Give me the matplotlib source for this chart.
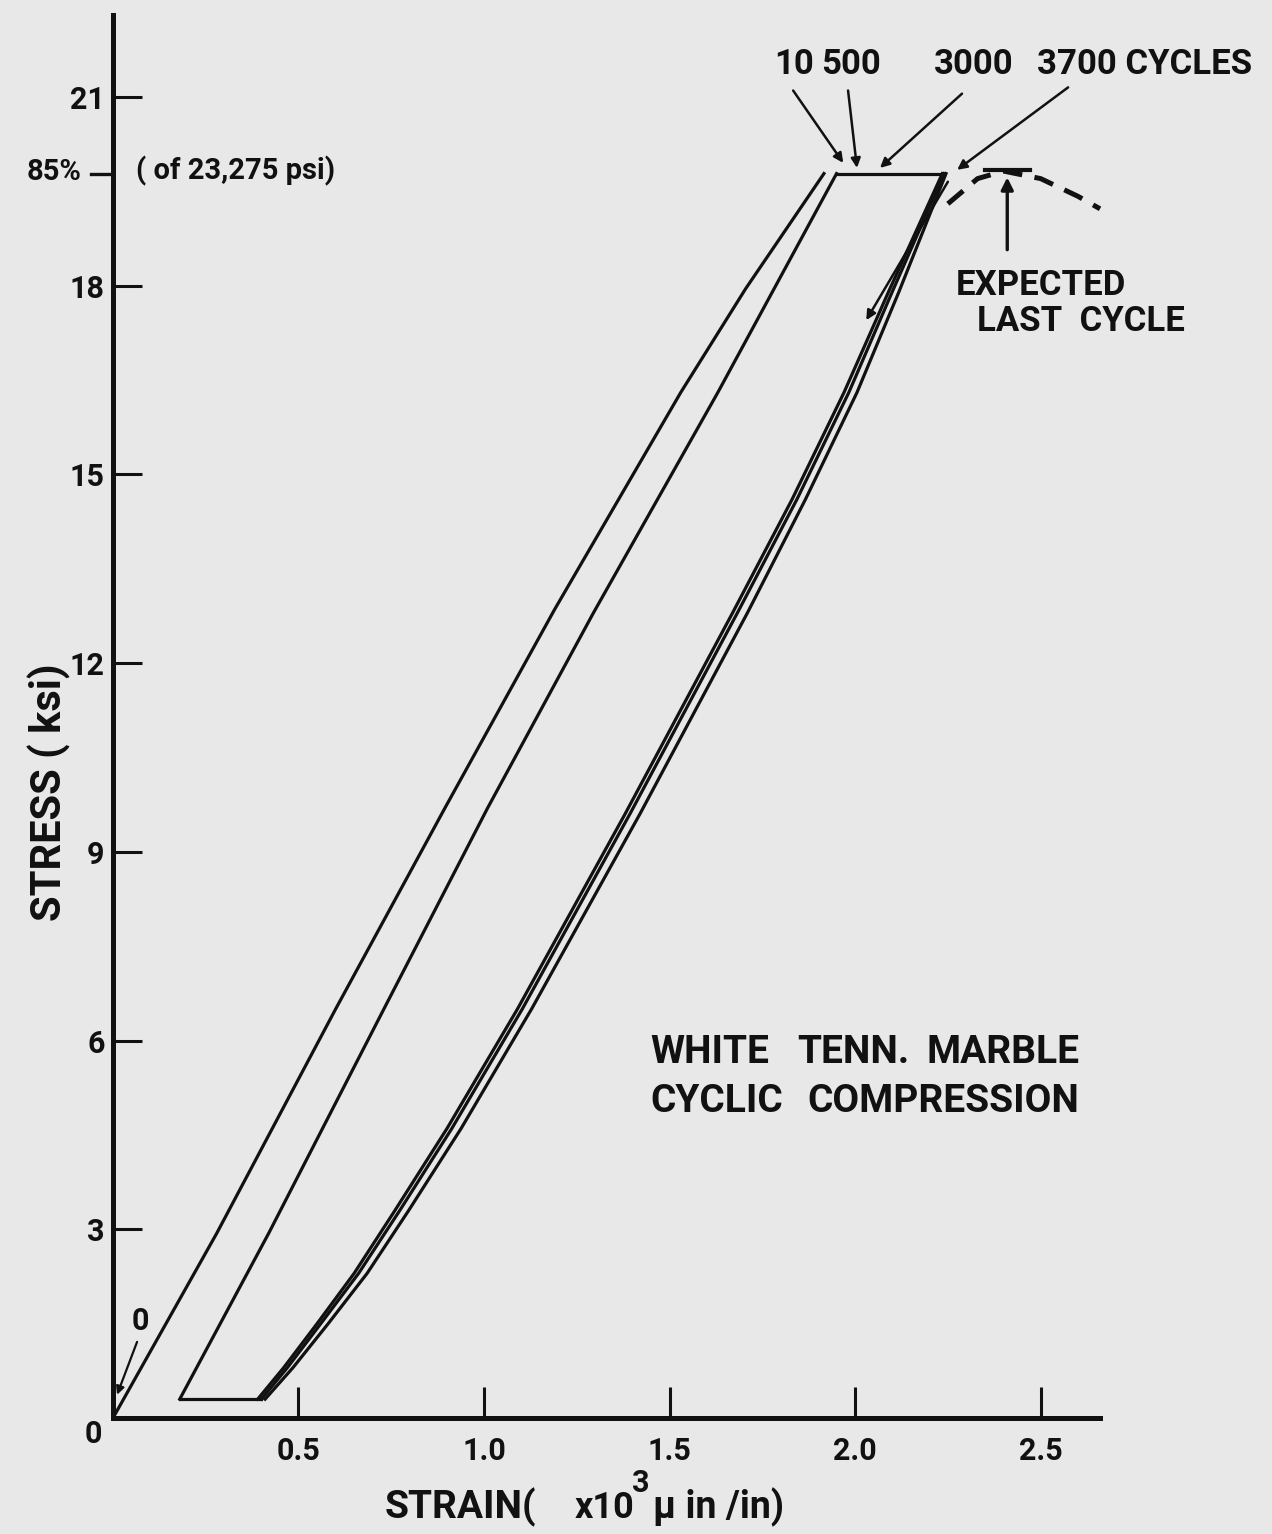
import matplotlib
matplotlib.use("Agg")
import matplotlib.pyplot as plt

plt.rcParams['font.family'] = ['Roboto', 'DejaVu Sans']
plt.rcParams['font.weight'] = 'bold'

# ---- data (strain x10^3, stress ksi) ----
first_load_strain = [0.0, 0.28, 0.60, 0.895, 1.19, 1.53, 1.705, 1.916]
first_load_stress = [0.0, 2.94, 6.5, 9.7, 12.85, 16.3, 17.95, 19.78]

unload_strain = [0.18, 0.42, 0.73, 1.01, 1.295, 1.63, 1.95]
unload_stress = [0.30, 2.94, 6.5, 9.7, 12.8, 16.3, 19.78]

cycle_stress = [0.30, 0.8, 1.5, 2.3, 3.3, 4.6, 6.5, 9.6, 12.8, 14.6, 16.3, 17.9, 19.78]
cycle_500_strain = [0.39, 0.46, 0.55, 0.65, 0.76, 0.90, 1.09, 1.38, 1.67, 1.83, 1.97, 2.09, 2.235]
cycle_3000_strain = [0.40, 0.47, 0.56, 0.662, 0.773, 0.913, 1.103, 1.393, 1.683, 1.843, 1.983, 2.10, 2.24]
cycle_3700_strain = [0.41, 0.485, 0.58, 0.685, 0.797, 0.938, 1.128, 1.42, 1.71, 1.866, 2.005, 2.118, 2.245]

top_strain = [1.95, 2.24]
top_stress = [19.78, 19.78]
bottom_strain = [0.18, 0.40]
bottom_stress = [0.30, 0.30]

expected_strain = [2.25, 2.33, 2.40, 2.50, 2.60, 2.66]
expected_stress = [19.3, 19.70, 19.82, 19.70, 19.42, 19.22]

max_stress = 19.78
yticks = [3, 6, 9, 12, 15, 18, 21]
ytick_labels = ['3', '6', '9', '12', '15', '18', '21']
xticks = [0.5, 1.0, 1.5, 2.0, 2.5]
xtick_labels = ['0.5', '1.0', '1.5', '2.0', '2.5']

INK = '#111111'
fig = plt.figure(figsize=(12.72, 15.34), dpi=100, facecolor='#e8e8e8')
ax = fig.add_axes([0.0888, 0.0756, 0.776, 0.9146])
ax.set_facecolor('none')
ax.set_xlim(0, 2.66)
ax.set_ylim(0, 22.3)

for s in ['top', 'right']:
    ax.spines[s].set_visible(False)
for s in ['left', 'bottom']:
    ax.spines[s].set_linewidth(3.6)
    ax.spines[s].set_color(INK)

ax.set_yticks(yticks)
ax.set_yticklabels(ytick_labels)
ax.set_xticks(xticks)
ax.set_xticklabels(xtick_labels)
ax.tick_params(axis='y', direction='in', length=21, width=2.2, pad=6,
               labelsize=22, colors=INK)
ax.tick_params(axis='x', direction='in', length=22, width=2.2, pad=13,
               labelsize=22, colors=INK)

lw = 2.3
ax.plot(first_load_strain, first_load_stress, color=INK, lw=lw)
ax.plot(unload_strain, unload_stress, color=INK, lw=lw)
ax.plot(cycle_500_strain, cycle_stress, color=INK, lw=lw)
ax.plot(cycle_3000_strain, cycle_stress, color=INK, lw=lw)
ax.plot(cycle_3700_strain, cycle_stress, color=INK, lw=lw)
ax.plot(top_strain, top_stress, color=INK, lw=lw)
ax.plot(bottom_strain, bottom_stress, color=INK, lw=lw)
ax.plot(expected_strain, expected_stress, color=INK, lw=3.6,
        dashes=(4, 2.5), clip_on=False)

# short unloading segment with arrow
ax.annotate('', xy=(2.03, 17.45), xytext=(2.25, 19.65),
            arrowprops=dict(arrowstyle='-|>', color=INK, lw=1.8,
                            mutation_scale=14, shrinkA=0, shrinkB=0))

# 85% marker
ax.plot([-0.058, 0.0], [max_stress, max_stress], color=INK, lw=2.4, clip_on=False)
ax.text(-0.084, 19.68, '85%', ha='right', va='baseline', fontsize=21, color=INK)
ax.text(0.062, 19.68, '( of 23,275 psi)', ha='left', va='baseline', fontsize=21, color=INK)

# origin label
ax.text(-0.054, -0.40, '0', ha='center', va='baseline', fontsize=22, color=INK,
        clip_on=False)

# cycle 0 label
ax.text(0.073, 1.40, '0', ha='center', va='baseline', fontsize=22, color=INK)
ax.annotate('', xy=(0.011, 0.37), xytext=(0.065, 1.21),
            arrowprops=dict(arrowstyle='-|>', color=INK, lw=1.6,
                            mutation_scale=12, shrinkA=0, shrinkB=0))

# cycle labels at top
fs_top = 25
ax.text(1.835, 21.36, '10', ha='center', va='baseline', fontsize=fs_top, color=INK, clip_on=False)
ax.text(1.990, 21.36, '500', ha='center', va='baseline', fontsize=fs_top, color=INK, clip_on=False)
ax.text(2.32, 21.36, '3000', ha='center', va='baseline', fontsize=fs_top, color=INK, clip_on=False)
ax.text(2.49, 21.36, '3700 CYCLES', ha='left', va='baseline', fontsize=fs_top, color=INK, clip_on=False)

leaders = [((1.833, 21.10), (1.968, 19.95)),
           ((1.981, 21.10), (2.005, 19.87)),
           ((2.288, 21.05), (2.067, 19.87)),
           ((2.574, 21.15), (2.275, 19.84))]
for (x0, y0), (x1, y1) in leaders:
    ax.annotate('', xy=(x1, y1), xytext=(x0, y0), annotation_clip=False,
                arrowprops=dict(arrowstyle='-|>', color=INK, lw=1.8,
                                mutation_scale=14, shrinkA=0, shrinkB=0))

# expected last cycle
ax.text(2.27, 17.85, 'EXPECTED', ha='left', va='baseline', fontsize=25, color=INK, clip_on=False)
ax.text(2.329, 17.27, 'LAST  CYCLE', ha='left', va='baseline', fontsize=25, color=INK, clip_on=False)
ax.annotate('', xy=(2.41, 19.72), xytext=(2.41, 18.57), annotation_clip=False,
            arrowprops=dict(arrowstyle='-|>', color=INK, lw=2.4,
                            mutation_scale=18, shrinkA=0, shrinkB=0))
ax.plot([2.35, 2.47], [19.83, 19.83], color=INK, lw=3.0, clip_on=False)

# title block
fs_t = 28
ax.text(1.447, 5.64, 'WHITE', ha='left', va='baseline', fontsize=fs_t, color=INK)
ax.text(1.845, 5.64, 'TENN.', ha='left', va='baseline', fontsize=fs_t, color=INK)
ax.text(2.605, 5.64, 'MARBLE', ha='right', va='baseline', fontsize=fs_t, color=INK)
ax.text(1.447, 4.86, 'CYCLIC', ha='left', va='baseline', fontsize=fs_t, color=INK)
ax.text(2.605, 4.86, 'COMPRESSION', ha='right', va='baseline', fontsize=fs_t, color=INK)

# axis labels
ax.text(0.733, -1.59, 'STRAIN(', ha='left', va='baseline', fontsize=28, color=INK, clip_on=False)
ax.text(1.245, -1.59, 'x10', ha='left', va='baseline', fontsize=26, color=INK, clip_on=False)
ax.text(1.400, -1.18, '3', ha='left', va='baseline', fontsize=22, color=INK, clip_on=False)
ax.text(1.455, -1.59, '\u03bc in /in)', ha='left', va='baseline', fontsize=27, color=INK,
        clip_on=False)
ax.text(-0.170, 9.94, 'STRESS ( ksi)', ha='center', va='center', rotation=90,
        fontsize=30, color=INK, clip_on=False)

fig.savefig('out.png', dpi=100, facecolor=fig.get_facecolor())
